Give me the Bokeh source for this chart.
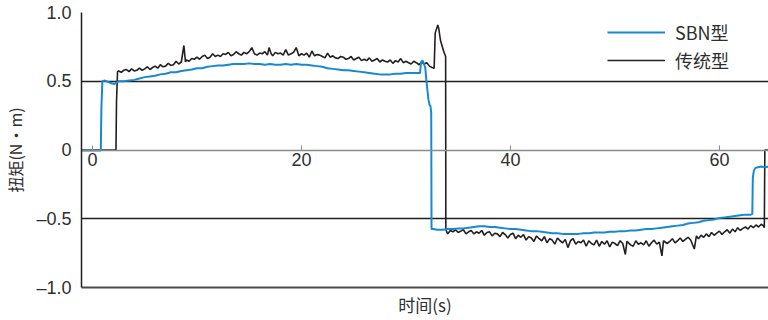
from bokeh.plotting import figure
from bokeh.models import LinearAxis, FixedTicker, Range1d, Legend, LegendItem, Grid, ColumnDataSource
from bokeh.embed import file_html
from bokeh.resources import INLINE

# ---------------- data ----------------
x_ticks = [0, 20, 40, 60]
x_tick_labels = ["0", "20", "40", "60"]
y_ticks = [-1.0, -0.5, 0.0, 0.5, 1.0]
y_tick_labels = ["–1.0", "–0.5", "0", "0.5", "1.0"]
series_names = ["SBN型", "传统型"]
x_label = "时间(s)"
y_label = "扭矩(N·m)"

# 传统型 (conventional) torque, time in s
conv_t = [
    -1.05, 2.25, 2.30, 2.40,
    2.50, 2.75, 3.00, 3.25, 3.50, 3.75, 4.00, 4.25,
    4.50, 4.75, 5.00, 5.25, 5.50, 5.75, 6.00, 6.25,
    6.50, 6.75, 7.00, 7.25, 7.50, 7.75, 8.00, 8.25,
    8.50, 8.75, 8.90, 9.00, 9.25, 9.50, 9.75, 10.00,
    10.25, 10.50, 10.75, 11.00, 11.25, 11.50, 11.75, 12.00,
    12.25, 12.50, 12.75, 13.00, 13.25, 13.50, 13.75, 14.00,
    14.25, 14.50, 14.75, 15.00, 15.25, 15.50, 15.75, 16.00,
    16.25, 16.50, 16.75, 16.90, 17.10, 17.25, 17.50, 17.75,
    18.00, 18.25, 18.50, 18.75, 19.00, 19.25, 19.50, 19.75,
    20.00, 20.25, 20.50, 20.75, 21.00, 21.25, 21.50, 21.75,
    22.00, 22.25, 22.50, 22.75, 23.00, 23.25, 23.50, 23.75,
    24.00, 24.25, 24.50, 24.75, 25.00, 25.25, 25.50, 25.75,
    26.00, 26.25, 26.50, 26.75, 27.00, 27.25, 27.50, 27.75,
    28.00, 28.25, 28.50, 28.75, 29.00, 29.25, 29.50, 29.75,
    30.00, 30.25, 30.50, 30.75, 31.00, 31.25, 31.50, 31.75,
    32.00, 32.25, 32.50, 32.70, 32.80, 33.05, 33.15, 33.30,
    33.45, 33.60, 33.70, 33.80, 33.82, 34.00, 34.25, 34.50,
    34.75, 35.00, 35.25, 35.50, 35.75, 36.00, 36.25, 36.50,
    36.75, 37.00, 37.25, 37.50, 37.75, 38.00, 38.25, 38.50,
    38.75, 39.00, 39.25, 39.50, 39.75, 40.00, 40.25, 40.50,
    40.75, 41.00, 41.25, 41.50, 41.75, 42.00, 42.25, 42.50,
    42.75, 43.00, 43.25, 43.50, 43.75, 44.00, 44.25, 44.50,
    44.75, 45.00, 45.25, 45.50, 45.75, 46.00, 46.25, 46.50,
    46.75, 47.00, 47.25, 47.50, 47.75, 48.00, 48.25, 48.50,
    48.75, 49.00, 49.25, 49.50, 49.75, 50.00, 50.25, 50.50,
    50.75, 51.00, 51.15, 51.50, 51.75, 52.00, 52.25, 52.50,
    52.75, 53.00, 53.25, 53.50, 53.75, 54.00, 54.25, 54.50,
    54.65, 55.00, 55.25, 55.50, 55.75, 56.00, 56.25, 56.50,
    56.75, 57.00, 57.25, 57.60, 57.80, 58.00, 58.25, 58.50,
    58.75, 59.00, 59.25, 59.50, 59.75, 60.00, 60.25, 60.50,
    60.75, 61.00, 61.25, 61.50, 61.75, 62.00, 62.25, 62.50,
    62.75, 63.00, 63.25, 63.50, 63.75, 64.00, 64.20, 64.30,
    64.35, 64.80,
]
conv_v = [
    0.0, 0.0, 0.35, 0.57,
    0.575, 0.565, 0.58, 0.585, 0.57, 0.59, 0.575, 0.58,
    0.595, 0.58, 0.59, 0.605, 0.585, 0.60, 0.61, 0.595,
    0.62, 0.605, 0.61, 0.63, 0.615, 0.62, 0.645, 0.625,
    0.64, 0.76, 0.64, 0.655, 0.645, 0.665, 0.66, 0.675,
    0.66, 0.68, 0.69, 0.665, 0.675, 0.70, 0.68, 0.69,
    0.68, 0.70, 0.695, 0.71, 0.685, 0.695, 0.715, 0.70,
    0.69, 0.71, 0.70, 0.715, 0.745, 0.70, 0.69, 0.705,
    0.70, 0.715, 0.69, 0.745, 0.70, 0.685, 0.71, 0.70,
    0.705, 0.69, 0.73, 0.69, 0.70, 0.71, 0.745, 0.685,
    0.70, 0.69, 0.705, 0.675, 0.72, 0.685, 0.695, 0.69,
    0.68, 0.67, 0.705, 0.675, 0.685, 0.67, 0.665, 0.68,
    0.675, 0.66, 0.665, 0.68, 0.655, 0.665, 0.675, 0.65,
    0.66, 0.65, 0.67, 0.645, 0.655, 0.665, 0.64, 0.655,
    0.645, 0.64, 0.655, 0.63, 0.65, 0.64, 0.665, 0.635,
    0.645, 0.635, 0.625, 0.645, 0.635, 0.62, 0.64, 0.625,
    0.635, 0.61, 0.60, 0.595, 0.85, 0.91, 0.88, 0.80,
    0.76, 0.72, 0.70, 0.68, -0.58, -0.61, -0.585, -0.595,
    -0.58, -0.60, -0.59, -0.58, -0.61, -0.595, -0.585, -0.61,
    -0.595, -0.605, -0.585, -0.62, -0.60, -0.595, -0.625, -0.605,
    -0.61, -0.63, -0.60, -0.615, -0.64, -0.615, -0.605, -0.645,
    -0.62, -0.635, -0.615, -0.655, -0.63, -0.64, -0.665, -0.625,
    -0.645, -0.66, -0.63, -0.675, -0.645, -0.655, -0.685, -0.64,
    -0.66, -0.675, -0.65, -0.71, -0.66, -0.645, -0.685, -0.665,
    -0.675, -0.655, -0.70, -0.66, -0.68, -0.69, -0.655, -0.70,
    -0.665, -0.685, -0.66, -0.705, -0.67, -0.68, -0.695, -0.66,
    -0.68, -0.76, -0.665, -0.69, -0.70, -0.66, -0.685, -0.675,
    -0.69, -0.66, -0.70, -0.675, -0.655, -0.685, -0.67, -0.77,
    -0.66, -0.68, -0.665, -0.645, -0.675, -0.66, -0.64, -0.665,
    -0.65, -0.635, -0.655, -0.72, -0.625, -0.645, -0.62, -0.635,
    -0.61, -0.63, -0.60, -0.62, -0.605, -0.59, -0.615, -0.595,
    -0.58, -0.605, -0.575, -0.595, -0.565, -0.585, -0.57, -0.56,
    -0.575, -0.55, -0.565, -0.545, -0.56, -0.54, -0.55, -0.565,
    0.0, 0.0,
]

# SBN型 torque, time in s
sbn_t = [
    -1.05, 0.80, 0.85, 0.95, 1.20, 1.50, 1.80, 2.10,
    2.30, 2.50, 3.00, 3.50, 4.00, 4.50, 5.00, 5.50,
    6.00, 6.50, 7.00, 7.50, 8.00, 8.50, 9.00, 9.50,
    10.00, 10.50, 11.00, 11.50, 12.00, 12.50, 13.00, 13.50,
    14.00, 14.50, 15.00, 15.50, 16.00, 16.50, 17.00, 17.50,
    18.00, 18.50, 19.00, 19.50, 20.00, 20.50, 21.00, 21.50,
    22.00, 22.50, 23.00, 23.50, 24.00, 24.50, 25.00, 25.50,
    26.00, 26.50, 27.00, 27.50, 28.00, 28.50, 29.00, 29.50,
    30.00, 30.50, 31.00, 31.35, 31.45, 31.60, 31.75, 31.85,
    31.95, 32.05, 32.15, 32.25, 32.35, 32.42, 32.45, 32.60,
    33.00, 33.50, 34.00, 34.50, 35.00, 35.50, 36.00, 36.50,
    37.00, 37.50, 38.00, 38.50, 39.00, 39.50, 40.00, 40.50,
    41.00, 41.50, 42.00, 42.50, 43.00, 43.50, 44.00, 44.50,
    45.00, 45.50, 46.00, 46.50, 47.00, 47.50, 48.00, 48.50,
    49.00, 49.50, 50.00, 50.50, 51.00, 51.50, 52.00, 52.50,
    53.00, 53.50, 54.00, 54.50, 55.00, 55.50, 56.00, 56.50,
    57.00, 57.50, 58.00, 58.50, 59.00, 59.50, 60.00, 60.50,
    61.00, 61.50, 62.00, 62.50, 63.00, 63.15, 63.20, 63.30,
    63.45, 63.70, 64.00, 64.30, 64.80,
]
sbn_v = [
    -0.003, -0.003, 0.30, 0.50, 0.505, 0.495, 0.485, 0.48,
    0.49, 0.50, 0.50, 0.505, 0.51, 0.52, 0.53, 0.535,
    0.54, 0.55, 0.555, 0.565, 0.565, 0.575, 0.58, 0.585,
    0.595, 0.595, 0.605, 0.61, 0.615, 0.615, 0.62, 0.625,
    0.625, 0.625, 0.63, 0.625, 0.625, 0.62, 0.625, 0.62,
    0.62, 0.625, 0.62, 0.625, 0.62, 0.62, 0.615, 0.61,
    0.605, 0.595, 0.59, 0.585, 0.58, 0.58, 0.575, 0.57,
    0.565, 0.56, 0.555, 0.55, 0.55, 0.55, 0.555, 0.555,
    0.56, 0.56, 0.56, 0.56, 0.64, 0.65, 0.62, 0.60,
    0.51, 0.44, 0.37, 0.33, 0.32, 0.27, -0.575, -0.575,
    -0.58, -0.58, -0.575, -0.575, -0.57, -0.57, -0.565, -0.56,
    -0.555, -0.555, -0.56, -0.56, -0.565, -0.57, -0.575, -0.575,
    -0.58, -0.585, -0.59, -0.59, -0.595, -0.60, -0.605, -0.605,
    -0.61, -0.61, -0.61, -0.61, -0.605, -0.605, -0.60, -0.60,
    -0.60, -0.595, -0.595, -0.59, -0.59, -0.585, -0.585, -0.58,
    -0.575, -0.575, -0.57, -0.565, -0.56, -0.555, -0.55, -0.545,
    -0.535, -0.53, -0.525, -0.515, -0.51, -0.505, -0.495, -0.49,
    -0.485, -0.48, -0.475, -0.47, -0.47, -0.465, -0.20, -0.15,
    -0.13, -0.125, -0.12, -0.125, -0.12,
]

# ---------------- styles ----------------
BLUE = "#1789d0"
BLACK = "#231f20"
TEXT = "#2e2e2e"
NUM_FONT = "Liberation Sans"
CJK_FONT = "Noto Sans CJK SC"

p = figure(width=768, height=320, output_backend="svg", toolbar_location=None,
           x_range=Range1d(-1.05, 64.7), y_range=Range1d(-1.0, 1.0),
           x_axis_location=None, y_axis_location=None,
           min_border_left=81, min_border_right=0, min_border_top=12, min_border_bottom=33)
p.outline_line_color = None
p.background_fill_color = "white"
p.center = [r for r in p.center if not isinstance(r, Grid)]

# horizontal reference lines (+-0.5 and top border)
p.add_layout(Grid(dimension=1, ticker=FixedTicker(ticks=[-0.5, 0.5, 1.0]),
                  grid_line_color=BLACK, grid_line_width=1.3))

# left axis
yaxis = LinearAxis(ticker=FixedTicker(ticks=y_ticks),
                   major_label_overrides={t: l for t, l in zip(y_ticks, y_tick_labels)},
                   axis_label=y_label, axis_label_text_font=CJK_FONT,
                   axis_label_text_font_size="16px", axis_label_text_font_style="normal",
                   axis_label_text_color=TEXT, axis_label_standoff=6,
                   major_label_text_font=NUM_FONT, major_label_text_font_size="18px",
                   major_label_text_color=TEXT, major_label_standoff=10,
                   major_tick_line_color=None, minor_tick_line_color=None,
                   major_tick_in=0, major_tick_out=0,
                   axis_line_color=BLACK, axis_line_width=1.5)
p.add_layout(yaxis, "left")

# bottom axis: border + title only
xaxis_b = LinearAxis(ticker=FixedTicker(ticks=[]), axis_label=x_label,
                     axis_label_text_font=CJK_FONT, axis_label_text_font_size="17px",
                     axis_label_text_font_style="normal", axis_label_text_color=TEXT,
                     axis_label_standoff=4, major_label_text_font_size="0px",
                     major_label_standoff=0, major_tick_in=0, major_tick_out=0,
                     major_tick_line_color=None, minor_tick_line_color=None,
                     axis_line_color="#4a4a4a", axis_line_width=2)
p.add_layout(xaxis_b, "below")

# zero-line axis with the time ticks
xaxis0 = LinearAxis(fixed_location=0, ticker=FixedTicker(ticks=x_ticks),
                    major_label_overrides={t: l for t, l in zip(x_ticks, x_tick_labels)},
                    axis_line_color="#8a8a8a", axis_line_width=1.5,
                    major_tick_in=5, major_tick_out=0, major_tick_line_color="#8a8a8a",
                    minor_tick_line_color=None,
                    major_label_text_font=NUM_FONT, major_label_text_font_size="18px",
                    major_label_text_color=TEXT, major_label_standoff=3)
p.add_layout(xaxis0, "below")

src_k = ColumnDataSource(dict(t=conv_t, v=conv_v))
src_b = ColumnDataSource(dict(t=sbn_t, v=sbn_v))
rk = p.line("t", "v", source=src_k, line_color=BLACK, line_width=1.6)
rb = p.line("t", "v", source=src_b, line_color=BLUE, line_width=2)

legend = Legend(items=[LegendItem(label=series_names[0], renderers=[rb]),
                       LegendItem(label=series_names[1], renderers=[rk])],
                location=(526, 214), glyph_width=58, glyph_height=20,
                label_standoff=10, padding=0, spacing=2, margin=0,
                border_line_color=None, background_fill_alpha=0,
                label_text_font=CJK_FONT, label_text_font_size="18px",
                label_text_color=TEXT)
p.add_layout(legend)

open("out.html", "w").write(file_html(p, INLINE))
